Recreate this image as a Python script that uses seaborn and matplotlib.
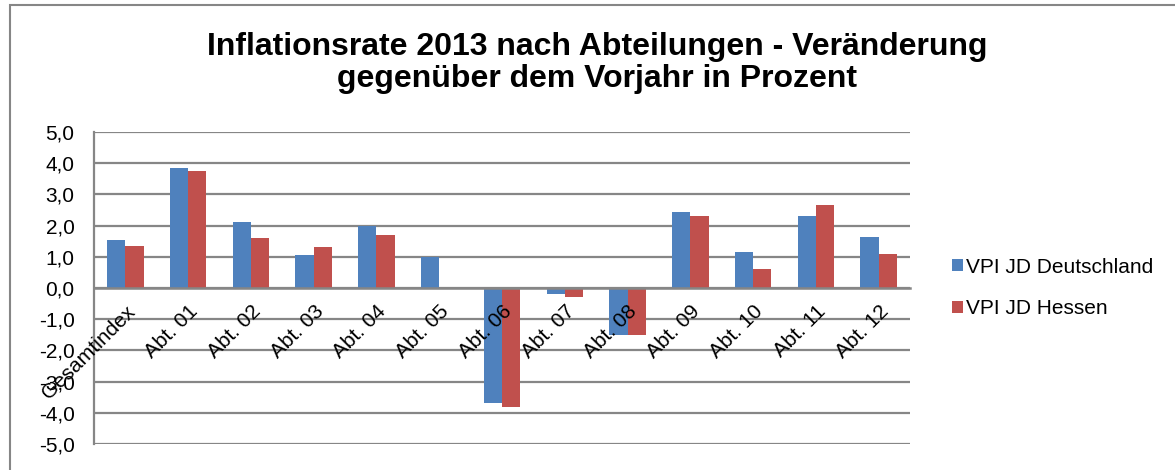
import numpy as np
import pandas as pd
import matplotlib
matplotlib.use("Agg")
import matplotlib.pyplot as plt
import seaborn as sns
from matplotlib.patches import Rectangle

# Data
categories = ["Gesamtindex", "Abt. 01", "Abt. 02", "Abt. 03", "Abt. 04", "Abt. 05",
              "Abt. 06", "Abt. 07", "Abt. 08", "Abt. 09", "Abt. 10", "Abt. 11", "Abt. 12"]
deutschland = [1.55, 3.85, 2.1, 1.05, 2.0, 1.0, -3.7, -0.2, -1.5, 2.45, 1.15, 2.3, 1.65]
hessen = [1.35, 3.75, 1.6, 1.3, 1.7, 0.0, -3.8, -0.3, -1.5, 2.3, 0.6, 2.65, 1.1]
series = ["VPI JD Deutschland", "VPI JD Hessen"]
yticks = np.arange(-5, 6, 1)

df = pd.DataFrame({
    "Abteilung": categories * 2,
    "Wert": deutschland + hessen,
    "Reihe": [series[0]] * len(categories) + [series[1]] * len(categories),
})

sns.set_style("white")
plt.rcParams["font.family"] = ["Liberation Sans", "DejaVu Sans"]
plt.rcParams["text.color"] = "black"
plt.rcParams["xtick.color"] = "black"
plt.rcParams["ytick.color"] = "black"

fig = plt.figure(figsize=(11.75, 4.7), dpi=100)
ax = fig.add_axes([94 / 1175, 1 - 444 / 470, 816 / 1175, 312 / 470])

sns.barplot(data=df, x="Abteilung", y="Wert", hue="Reihe", order=categories,
            palette=["#4F81BD", "#C0504D"], width=0.58, saturation=1,
            edgecolor="none", ax=ax)

ax.set_ylim(-5, 5)
ax.set_yticks(yticks)
ax.set_yticklabels([f"{v:.1f}".replace(".", ",") for v in yticks], fontsize=15)
ax.yaxis.grid(True, color="#868686", linewidth=1.6)
ax.set_axisbelow(True)
ax.set_xlabel("")
ax.set_ylabel("")

for s in ["top", "right"]:
    ax.spines[s].set_visible(False)
ax.spines["left"].set_color("#868686")
ax.spines["left"].set_linewidth(1.6)
ax.spines["bottom"].set_position(("data", 0))
ax.spines["bottom"].set_color("#868686")
ax.spines["bottom"].set_linewidth(1.8)
ax.spines["bottom"].set_zorder(4)
ax.tick_params(axis="both", length=0)
ax.tick_params(axis="y", pad=14)
ax.tick_params(axis="x", pad=10)
ax.set_xticks(range(len(categories)))
ax.set_xticklabels(categories, rotation=45, ha="right", rotation_mode="anchor",
                   fontsize=15)
ax.xaxis.set_zorder(5)
ax.set_xlim(-0.5, len(categories) - 0.5)

ax.legend(handles=ax.get_legend_handles_labels()[0], labels=series,
          loc="center left", bbox_to_anchor=(944 / 1175, 1 - 288 / 470),
          bbox_transform=fig.transFigure, frameon=False, fontsize=15,
          handlelength=0.5, handleheight=0.5, handletextpad=0.15,
          labelspacing=1.1, borderaxespad=0)

fig.text(597 / 1175, 1 - 63 / 470,
         "Inflationsrate 2013 nach Abteilungen - Veränderung\ngegenüber dem Vorjahr in Prozent",
         ha="center", va="center", fontsize=23, fontweight="bold", linespacing=1.1)

# outer chart frame
fig.patches.append(Rectangle((10 / 1175, -0.05), 1.1, 1 - 5 / 470 + 0.05,
                             transform=fig.transFigure, fill=False,
                             edgecolor="#868686", linewidth=1.5))

fig.savefig("out.png", dpi=100)
